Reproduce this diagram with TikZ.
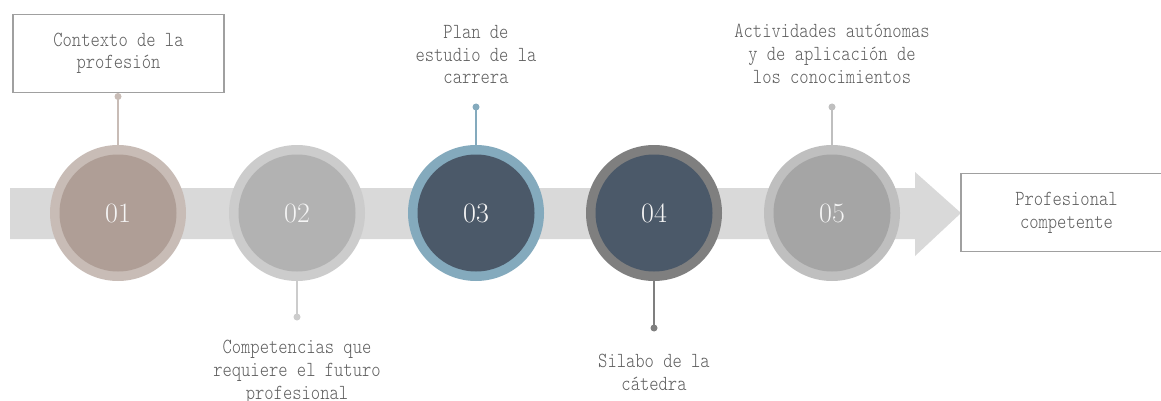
\documentclass[tikz,border=0pt]{standalone}
\usepackage{fontspec}
\setmonofont{lmmonolt10-regular.otf}[FakeStretch=0.824]
\definecolor{bandc}{HTML}{D9D9D9}
\definecolor{oa}{HTML}{C8BCB6}
\definecolor{ia}{HTML}{AF9E96}
\definecolor{ob}{HTML}{CCCCCC}
\definecolor{ib}{HTML}{B2B2B2}
\definecolor{oc}{HTML}{84AABD}
\definecolor{ic}{HTML}{4B5969}
\definecolor{od}{HTML}{7F7F7F}
\definecolor{id}{HTML}{4B5969}
\definecolor{oe}{HTML}{BFBFBF}
\definecolor{ie}{HTML}{A5A5A5}
\definecolor{boxc}{HTML}{A0A0A0}
\definecolor{txt}{HTML}{5E5E5E}
\definecolor{numc}{HTML}{F5F5F5}
\begin{document}
\begin{tikzpicture}[x=1pt,y=-1pt,
  lbl/.style={font=\ttfamily\fontsize{21.5}{22.8}\selectfont, text=txt, align=center, inner sep=0pt},
  outerc/.style={circle, minimum size=136pt, inner sep=0pt},
  innerc/.style={circle, minimum size=117pt, inner sep=0pt, text=numc, font=\fontsize{28}{28}\selectfont},
  conn/.style={line width=2pt},
  boxn/.style={draw=boxc, line width=1.5pt, minimum width=211pt, minimum height=78pt, inner sep=0pt, fill=white}]
\useasboundingbox (0,0) rectangle (1161,401);
% band with arrow head
\fill[bandc] (10,188) -- (915,188) -- (915,172) -- (961,213) -- (915,256) -- (915,239) -- (10,239) -- cycle;
% circles
\node[outerc, fill=oa] (c1) at (118,213) {};
\node[innerc, fill=ia] (n1) at (c1) {01};
\node[outerc, fill=ob] (c2) at (297,213) {};
\node[innerc, fill=ib] (n2) at (c2) {02};
\node[outerc, fill=oc] (c3) at (476,213) {};
\node[innerc, fill=ic] (n3) at (c3) {03};
\node[outerc, fill=od] (c4) at (654,213) {};
\node[innerc, fill=id] (n4) at (c4) {04};
\node[outerc, fill=oe] (c5) at (832,213) {};
\node[innerc, fill=ie] (n5) at (c5) {05};
% connector end points
\coordinate (d1) at (118,96.5);
\coordinate (d2) at (297,317);
\coordinate (d3) at (476,107);
\coordinate (d4) at (654,328);
\coordinate (d5) at (832,107);
\draw[conn, draw=oa] (c1.north) -- (d1);
\draw[conn, draw=ob] (c2.south) -- (d2);
\draw[conn, draw=oc] (c3.north) -- (d3);
\draw[conn, draw=od] (c4.south) -- (d4);
\draw[conn, draw=oe] (c5.north) -- (d5);
% boxes
\node[boxn, lbl] (b1) at (118.5,53.3) {Contexto de la\\profesión};
\node[boxn, lbl] (b2) at (1066.5,212.5) {Profesional\\competente};
\fill[oa] (d1) circle (3.5);
\fill[ob] (d2) circle (3.5);
\fill[oc] (d3) circle (3.5);
\fill[od] (d4) circle (3.5);
\fill[oe] (d5) circle (3.5);
% labels
\node[lbl] (t3) at (476,54.5) {Plan de\\estudio de la\\carrera};
\node[lbl] (t5) at (832,54) {Actividades autónomas\\y de aplicación de\\los conocimientos};
\node[lbl] (t2) at (297,372.5) {Competencias que\\requiere el futuro\\profesional};
\node[lbl] (t4) at (654,372) {Silabo de la\\cátedra};
\end{tikzpicture}
\end{document}
